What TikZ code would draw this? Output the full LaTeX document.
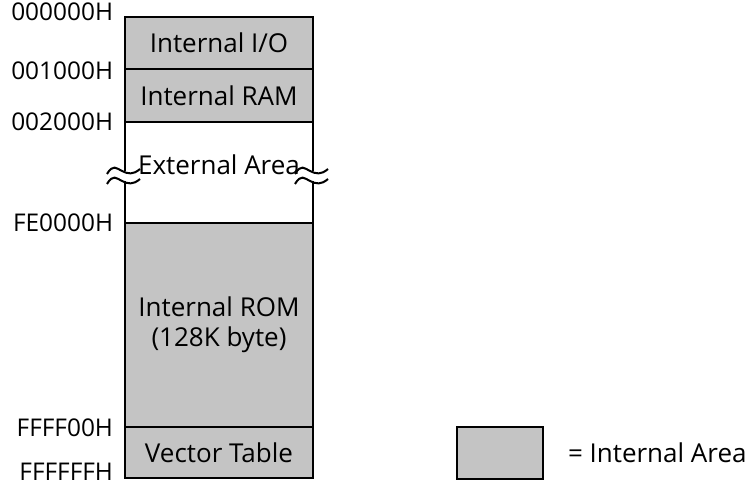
\documentclass[tikz,border=0pt]{standalone}
\usepackage{fontspec}
\setmainfont{Open Sans}
\usetikzlibrary{positioning}
\definecolor{dotgray}{RGB}{196,196,196}

\begin{document}
\begin{tikzpicture}
          [x=0.5pt,y=-0.5pt,
            every node/.style={inner sep=0pt,outer sep=0pt},
            area/.style={rectangle,line width=1pt,minimum width=94pt,
              font=\fontsize{13}{15}\selectfont,align=center},
            internal/.style={area,draw,fill=dotgray},
            addr/.style={anchor=east,font=\fontsize{12.2}{14}\selectfont},
            word/.style={font=\fontsize{13}{15}\selectfont},
            wave/.style={line width=1pt},
          ]
          \useasboundingbox (0,0) rectangle (745,492);

          % memory map
          \node[internal,minimum height=26pt,anchor=north west] (io) at (125,17) {Internal I/O};
          \node[internal,minimum height=26.5pt,below=0pt of io] (ram) {Internal RAM};
          \node[area,minimum height=50.5pt,below=0pt of ram] (ext) {};
          \node[internal,minimum height=102pt,below=0pt of ext] (rom) {Internal ROM\\(128K byte)};
          \node[internal,minimum height=25.5pt,below=0pt of rom] (vec) {Vector Table};
          \node[word] (extlbl) at (219,165) {External Area};

          % broken side edges of the external area
          \coordinate (lbrk1) at (125,171);
          \coordinate (lbrk2) at (125,181);
          \coordinate (rbrk1) at (313,171);
          \coordinate (rbrk2) at (313,181);
          \draw[line width=1pt] (ext.north west) -- (lbrk1);
          \draw[line width=1pt] (lbrk2) -- (ext.south west);
          \draw[line width=1pt] (ext.north east) -- (rbrk1);
          \draw[line width=1pt] (rbrk2) -- (ext.south east);
          \foreach \b in {lbrk1,lbrk2,rbrk1,rbrk2}
            \draw[wave] (\b) ++(-18,3) .. controls +(6,-10) and +(-6,-3) .. ++(15,-3)
                                          .. controls +(6,3) and +(-7,6) .. ++(18,-2);

          % addresses
          \node[addr] (a0) at (113,12) {000000H};
          \node[addr] (a1) at (113,71) {001000H};
          \node[addr] (a2) at (113,122) {002000H};
          \node[addr] (a3) at (113,223) {FE0000H};
          \node[addr] (a4) at (113,428) {FFFF00H};
          \node[addr] (a5) at (113,472) {FFFFFFH};

          % legend
          \node[internal,minimum width=43pt,minimum height=26pt,anchor=north west] (key) at (457,427) {};
          \node[word,right=12.5pt of key] (keylbl) {= Internal Area};
        \end{tikzpicture}
\end{document}
